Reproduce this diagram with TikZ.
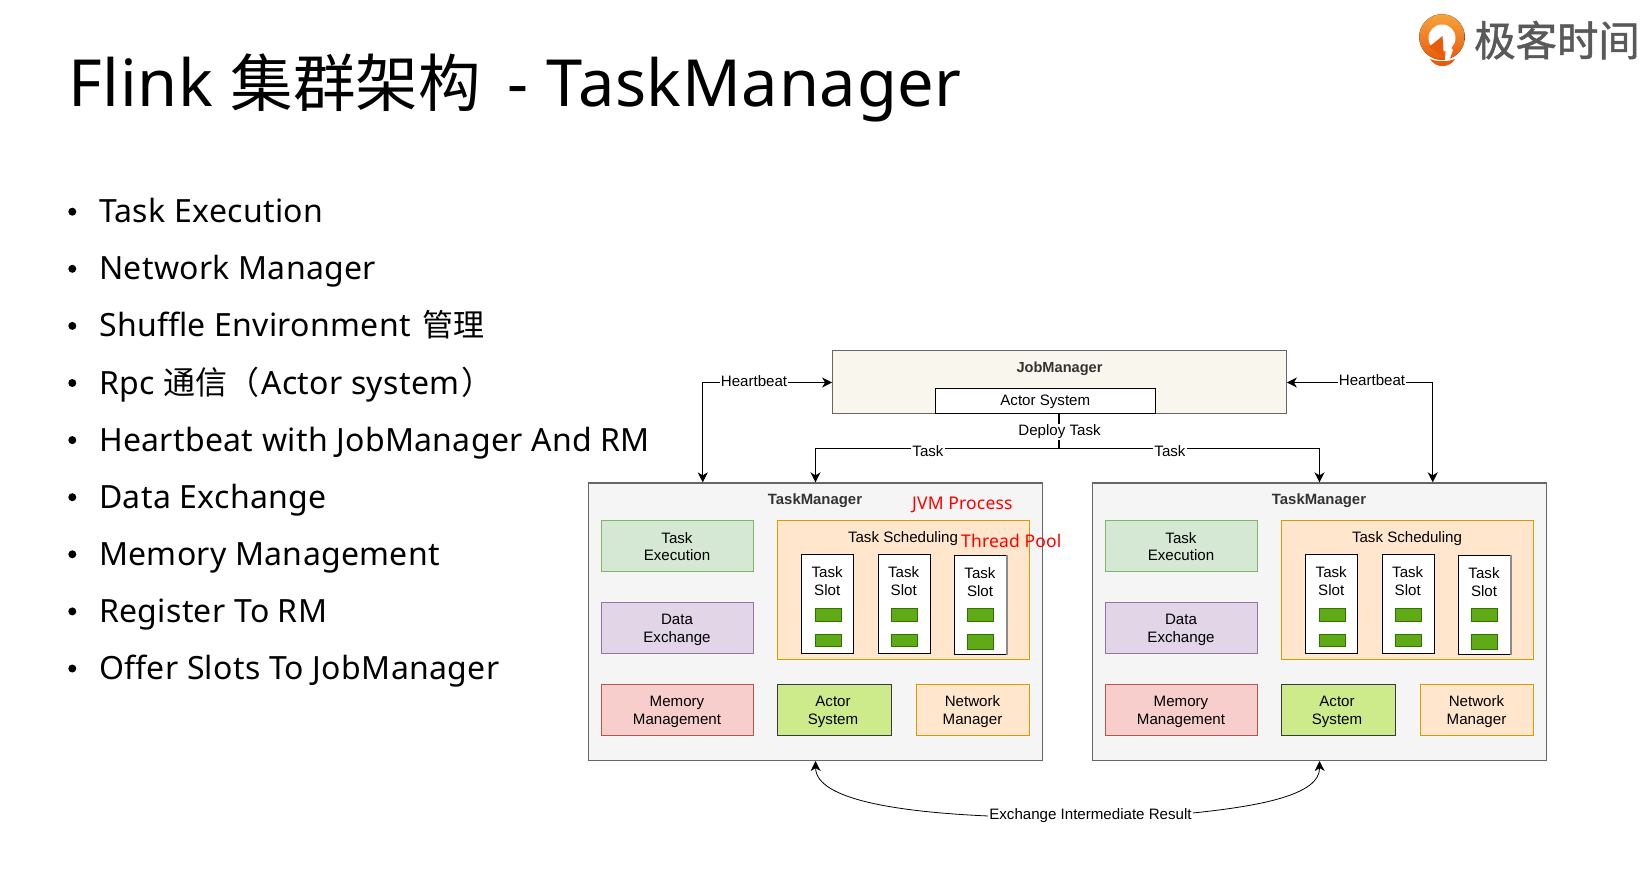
\documentclass[tikz,border=0pt]{standalone}
\usepackage{fontspec}
\setmainfont[LetterSpace=1.0]{Noto Sans}
\newfontfamily\cjk{Noto Sans CJK SC}
\newfontfamily\logofont[FakeBold=1.2]{Noto Sans CJK SC}
\newfontfamily\drawio{Liberation Sans}
\usetikzlibrary{arrows.meta}

\definecolor{tmfill}{HTML}{F5F5F5}
\definecolor{tmline}{HTML}{666666}
\definecolor{jmfill}{HTML}{F9F7ED}
\definecolor{schedfill}{HTML}{FFE6CC}
\definecolor{schedline}{HTML}{D79B00}
\definecolor{execfill}{HTML}{D5E8D4}
\definecolor{execline}{HTML}{82B366}
\definecolor{datafill}{HTML}{E1D5E7}
\definecolor{dataline}{HTML}{9673A6}
\definecolor{memfill}{HTML}{F8CECC}
\definecolor{memline}{HTML}{B85450}
\definecolor{actorfill}{HTML}{CDEB8B}
\definecolor{actorline}{HTML}{36393D}
\definecolor{greenfill}{HTML}{60A917}
\definecolor{greenline}{HTML}{2D7600}
\definecolor{logotop}{HTML}{F7A33C}
\definecolor{logobot}{HTML}{E95B0C}

\tikzset{
    box/.style={draw, inner sep=0pt, align=center, font=\drawio\fontsize{15.1}{17.5}\selectfont},
    tmbox/.style={box, draw=tmline, fill=tmfill, line width=1.2pt},
    bullet/.style={anchor=base west, inner sep=0pt, font=\fontsize{32}{38}\selectfont},
    redlabel/.style={anchor=base west, inner sep=0pt, text=red, font=\fontsize{17.5}{22}\selectfont},
    linelabel/.style={fill=white, inner sep=1pt, font=\drawio\fontsize{15.1}{17.5}\selectfont},
    link/.style={draw, -{Stealth[length=10pt,width=10pt,inset=3pt]}},
}

\begin{document}
\begin{tikzpicture}[x=1pt,y=-1pt]
    \useasboundingbox (0,0) rectangle (1650,870);

    % title
    \node [anchor=base west, inner sep=0pt, font=\fontsize{65}{70}\selectfont] (title) at (68,106)
        {Flink {\cjk\fontsize{62.5}{70}\selectfont 集群架构}\hspace{9pt} - \hspace{1pt}TaskManager};

    % logo
    \fill [top color=logotop, bottom color=logobot] (1442,37) circle (22.8);
    \fill [white] (1442,38) circle (13.5);
    \fill [logobot] (1442.5,36) -- (1444,57) -- (1429,47) -- cycle;
    \fill [white] (1446,42) -- (1453,50) -- (1449,61) -- (1445,61) -- cycle;
    \fill [logobot] (1430,59) .. controls (1438,62) and (1447,62) .. (1455,59)
        .. controls (1450,68) and (1436,69) .. (1430,59) -- cycle;
    \node [anchor=base west, inner sep=0pt, text=black!65, font=\logofont\fontsize{41.4}{41}\selectfont] (logotext)
        at (1474,56) {极客时间};

    % bullet list
    \foreach \n/\txt [count=\i from 0] in {
        exec/{Task Execution},
        net/{Network Manager},
        shuffle/{Shuffle Environment\hspace{3pt} {\cjk\fontsize{31}{38}\selectfont 管理}},
        rpc/{Rpc {\cjk 通信（}\hspace{2pt}Actor system\hspace{2pt}{\cjk ）}},
        hb/{Heartbeat with JobManager And RM},
        data/{Data Exchange},
        mem/{Memory Management},
        reg/{Register To RM},
        offer/{Offer Slots To JobManager}} {
        \fill (72.3, 222.7 + 57.1*\i - 11) circle (4);
        \node [bullet] (item\n) at (99, 222.7 + 57.1*\i) {\txt};
    }

    % job manager
    \node [box, draw=tmline, fill=jmfill, line width=1.2pt, minimum width=453.6pt, minimum height=62.6pt] (jm) at (1059.5,382) {};
    \node [box, draw=black, fill=white, minimum width=220.7pt, minimum height=25pt] (jmactor) at (1045.3,400.5) {};
    \node [font=\drawio\fontsize{15.1}{17.5}\selectfont] (jmactorlabel) at (1045.3,401.5) {Actor System};
    \node [font=\drawio\bfseries\fontsize{14.6}{17.5}\selectfont, text=black!80] (jmlabel) at (1059.5,369) {JobManager};

    % task managers
    \foreach \tm/\xoff in {a/0,b/504} {
        \begin{scope}[xshift=\xoff pt]
        \node [tmbox, minimum width=454pt, minimum height=277.5pt] (\tm) at (815.5,621.7) {};
        \node [font=\drawio\bfseries\fontsize{14.9}{17.5}\selectfont, text=black!80] (\tm label) at (815,501) {TaskManager};

        \node [box, draw=execline, fill=execfill, minimum width=152pt, minimum height=51pt] (\tm exec) at (677.6,545.8) {};
        \node [font=\drawio\fontsize{15.1}{17.5}\selectfont, align=center] (\tm execlabel) at (677,546.5) {Task\\Execution};
        \node [box, draw=dataline, fill=datafill, minimum width=152pt, minimum height=51pt] (\tm data) at (677.6,628) {};
        \node [font=\drawio\fontsize{15.1}{17.5}\selectfont, align=center] (\tm datalabel) at (677,630) {Data\\Exchange};
        \node [box, draw=memline, fill=memfill, minimum width=152pt, minimum height=51pt] (\tm mem) at (677.6,709.8) {};
        \node [font=\drawio\fontsize{15.1}{17.5}\selectfont, align=center] (\tm memlabel) at (677,711.8) {Memory\\Management};

        \node [box, draw=schedline, fill=schedfill, minimum width=252pt, minimum height=139pt] (\tm sched) at (903.5,589.8) {};
        \node [font=\drawio\fontsize{15.1}{17.5}\selectfont] (\tm schedlabel) at (903,539) {Task Scheduling};

        \node [box, draw=actorline, fill=actorfill, line width=1.1pt, minimum width=114pt, minimum height=51pt] (\tm actor) at (834.5,709.8) {};
        \node [font=\drawio\fontsize{15.1}{17.5}\selectfont, align=center] (\tm actorlabel) at (833,711.8) {Actor\\System};
        \node [box, draw=schedline, fill=schedfill, minimum width=113pt, minimum height=51pt] (\tm net) at (973,709.8) {};
        \node [font=\drawio\fontsize{15.1}{17.5}\selectfont, align=center] (\tm netlabel) at (972.5,711.8) {Network\\Manager};

        % slots
        \foreach \s/\xs/\yt/\hl in {1/827.7/554.3/12,2/904.2/554.3/12,3/980.5/555.3/15} {
            \node [box, draw=black, fill=white, line width=1pt, minimum width=52pt, minimum height=99pt, anchor=north] (\tm slot\s) at (\xs,\yt) {};
            \node [font=\drawio\fontsize{15.1}{17.5}\selectfont, align=center, inner sep=0pt] (\tm slotlabel\s) at (\xs-0.5,\yt+27) {Task\\Slot};
            \node [draw=greenline, fill=greenfill, minimum width=26pt, minimum height=13pt, inner sep=0pt] (\tm green\s) at (\xs,615) {};
            \node [draw=greenline, fill=greenfill, minimum width=26pt, minimum height=\hl pt, inner sep=0pt, anchor=north] (\tm lower\s) at (\xs,634) {};
        }
        \draw [line width=1.5pt, black!45] (\tm slot3.north east) -- (\tm slot3.south east);
        \end{scope}
    }

    % heartbeats
    \node [linelabel] (hbl) at (754,381.5) {Heartbeat};
    \node [linelabel] (hbr) at (1372,380.5) {Heartbeat};
    \coordinate (hblcorner) at (702.7,382.5);
    \coordinate (hbrcorner) at (1432.7,382.5);
    \draw [link, line width=0.8pt] (hbl.east |- hblcorner) -- (jm.west |- hblcorner);
    \draw [link, line width=0.8pt] (hbl.west |- hblcorner) -- (hblcorner) -- (hblcorner |- a.north);
    \draw [link, line width=0.8pt] (hbr.west |- hbrcorner) -- (jm.east |- hbrcorner);
    \draw [link, line width=1.4pt] (hbr.east |- hbrcorner) -- (hbrcorner) -- (hbrcorner |- b.north);

    % deploy
    \coordinate (deploy) at (1059.3,448.5);
    \node [linelabel] (tasklabelleft) at (928,451) {Task};
    \node [linelabel] (tasklabelright) at (1170,451) {Task};
    \draw [line width=1.8pt] (jm.south -| deploy) -- (deploy);
    \draw [link, line width=1.8pt] (tasklabelleft.west |- deploy) -| (a.north);
    \draw [line width=1.8pt] (deploy) -- (tasklabelleft.east |- deploy);
    \draw [line width=1.8pt] (deploy) -- (tasklabelright.west |- deploy);
    \draw [link, line width=1.4pt] (tasklabelright.east |- deploy) -| (b.north);
    \node [linelabel, inner sep=0.5pt] (deploylabel) at (1059.5,432) {Deploy Task};

    % exchange
    \node [linelabel] (exch) at (1090.5,816) {Exchange Intermediate Result};
    \draw [link, line width=0.8pt] (exch.west) .. controls (900,812) and (816,800) .. (a.south);
    \draw [link, line width=0.8pt] ([yshift=3pt]exch.east) .. controls (1260,806) and (1320,795) .. (b.south);

    % red remarks
    \node [redlabel] (jvm) at (912,509) {JVM Process};
    \node [redlabel] (pool) at (961,547) {Thread Pool};
\end{tikzpicture}
\end{document}
